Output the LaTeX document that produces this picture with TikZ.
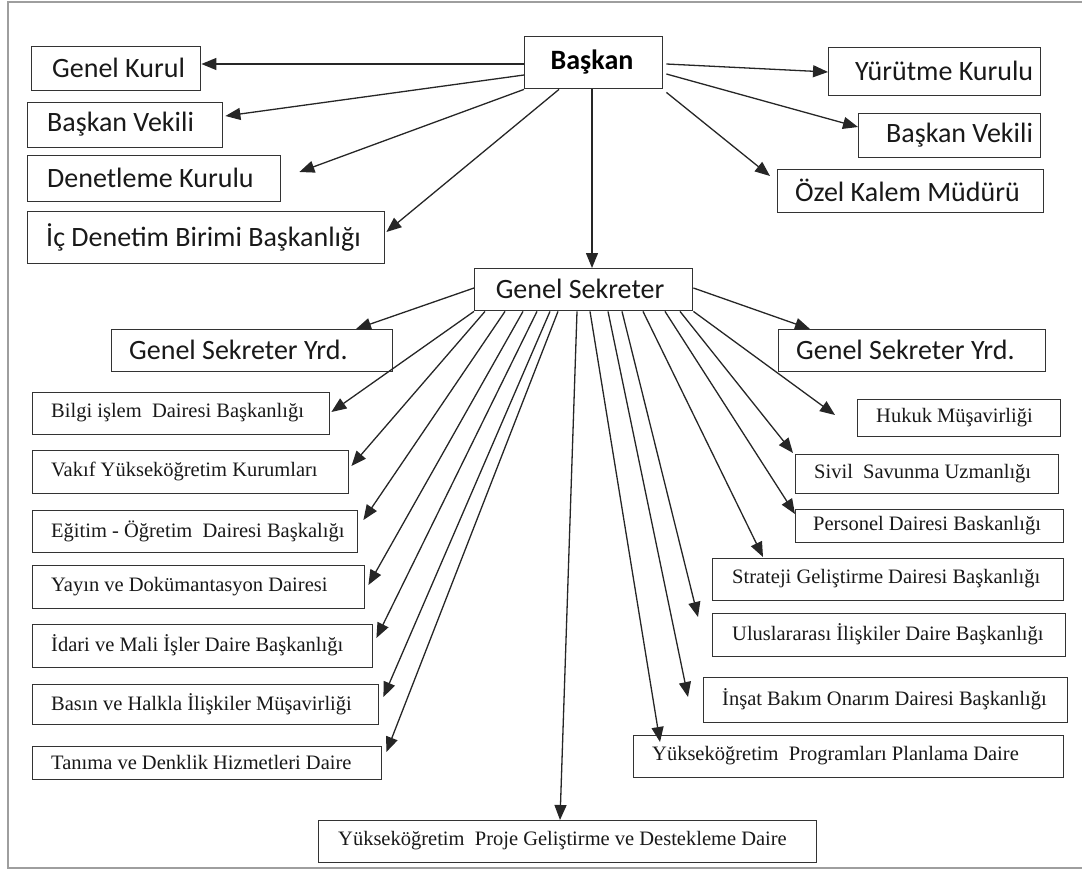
\documentclass[tikz,border=0pt]{standalone}
\usepackage{fontspec}
\newfontfamily\calib{Carlito}
\newfontfamily\tnr{Liberation Serif}
\usetikzlibrary{arrows.meta,calc}

% box from (x1,y1) to (x2,y2) with its label placed at text-x
% #1 name, #2 x1, #3 y1, #4 x2, #5 y2, #6 text x, #7 label style, #8 label
\newcommand\orgbox[8]{%
  \node[boxst, minimum width={(#4)-(#2)}, minimum height={(#5)-(#3)},
        anchor=north west] (#1) at (#2,#3) {};
  \node[anchor=west, #7] (#1-t) at (#6,{((#3)+(#5))/2}) {#8};
}

\begin{document}
\begin{tikzpicture}[x=1pt,y=-1pt,
  boxst/.style={draw=black!80, line width=1.4pt, inner sep=0pt, fill=white},
  top/.style={font=\calib\fontsize{28}{32}\selectfont, text=black!90, inner sep=0pt},
  topb/.style={font=\calib\bfseries\fontsize{28}{32}\selectfont, text=black, inner sep=0pt},
  low/.style={font=\tnr\fontsize{20.5}{24}\selectfont, text=black!90, inner sep=0pt},
  arr/.style={draw=black!85, line width=1.3pt, -{Triangle[length=15pt,width=12pt]}}]

\useasboundingbox (0,0) rectangle (1082,873);
% page frame
\draw[black!38, line width=2pt] (1082,2) -- (8,2) -- (8,868) -- (1082,868);

% top level
\orgbox{bas}{524}{36}{662}{88}{592}{topb, anchor=center}{Başkan}
\orgbox{gk}{31}{46}{200}{90}{52}{top}{Genel Kurul}
\orgbox{bvl}{27}{102}{222}{147}{47}{top}{Başkan Vekili}
\orgbox{den}{27}{155}{280}{201}{47}{top}{Denetleme Kurulu}
\orgbox{ic}{27}{211}{384}{263}{46}{top}{İç Denetim Birimi Başkanlığı}
\orgbox{yk}{828}{47}{1040}{95}{855}{top}{Yürütme Kurulu}
\orgbox{bvr}{858}{113}{1040}{157}{886}{top}{Başkan Vekili}
\orgbox{ozk}{777}{169}{1043}{212}{795}{top}{Özel Kalem Müdürü}

% general secretary
\orgbox{gs}{474}{268}{692}{310}{580}{top, anchor=center}{Genel Sekreter}
\orgbox{gsyl}{111}{329}{392}{371}{129}{top}{Genel Sekreter Yrd.}
\orgbox{gsyr}{778}{329}{1045}{371}{796}{top}{Genel Sekreter Yrd.}

% left column
\orgbox{bilgi}{32}{392}{329}{434}{51}{low}{Bilgi işlem\ \ Dairesi Başkanlığı}
\orgbox{vakif}{32}{450}{348}{493}{51}{low}{Vakıf Yükseköğretim Kurumları}
\orgbox{egitim}{32}{510}{357}{552}{51}{low}{Eğitim - Öğretim\ \ Dairesi Başkalığı}
\orgbox{yayin}{32}{565}{364}{608}{51}{low}{Yayın ve Dokümantasyon Dairesi}
\orgbox{idari}{32}{624}{372}{667}{51}{low}{İdari ve Mali İşler Daire Başkanlığı}
\orgbox{basin}{32}{684}{378}{724}{51}{low}{Basın ve Halkla İlişkiler Müşavirliği}
\orgbox{tanima}{32}{746}{381}{779}{51}{low}{Tanıma ve Denklik Hizmetleri Daire}

% right column
\orgbox{hukuk}{857}{399}{1060}{436}{876}{low}{Hukuk Müşavirliği}
\orgbox{sivil}{795}{454}{1058}{493}{814}{low}{Sivil\ \ Savunma Uzmanlığı}
\orgbox{pers}{795}{509}{1063}{542}{813}{low}{Personel Dairesi Baskanlığı}
\orgbox{strat}{712}{558}{1063}{600}{732}{low}{Strateji Geliştirme Dairesi Başkanlığı}
\orgbox{ulus}{712}{613}{1065}{656}{732}{low}{Uluslararası İlişkiler Daire Başkanlığı}
\orgbox{insat}{703}{677}{1067}{722}{722}{low}{İnşat Bakım Onarım Dairesi Başkanlığı}
\orgbox{prog}{633}{735}{1063}{777}{652}{low}{Yükseköğretim\ \ Programları Planlama Daire}

% bottom
\orgbox{proje}{318}{820}{816}{862}{338}{low}{Yükseköğretim\ \ Proje Geliştirme ve Destekleme Daire}

% from Başkan
\draw[arr] ($(bas.north west)+(0,28)$) -- ($(gk.north east)+(0,18)$);
\draw[arr] ($(bas.north west)+(0,39)$) -- ($(bvl.north east)+(2,14)$);
\draw[arr] (bas.south west) -- ($(den.north east)+(18,17)$);
\draw[arr] ($(bas.south west)+(35,0)$) -- ($(ic.north east)+(1,21)$);
\draw[arr] ($(bas.north east)+(3,28)$) -- ($(yk.north west)+(0,25)$);
\draw[arr] ($(bas.north east)+(3,38)$) -- ($(bvr.north west)+(0,14)$);
\draw[arr] ($(bas.south east)+(3,3)$) -- ($(ozk.north west)+(-7,7)$);
\draw[arr] ($(bas.south west)+(68,0)$) -- ($(gs.north west)+(118,0)$);

% from Genel Sekreter
\draw[arr] ($(gs.north west)+(0,20)$) -- ($(gsyl.north west)+(245,0)$);
\draw[arr] ($(gs.north east)+(0,20)$) -- ($(gsyr.north west)+(32,0)$);

\draw[arr] (gs.south west) -- ($(bilgi.north east)+(1,20)$);
\draw[arr] ($(gs.south west)+(11,0)$) -- ($(vakif.north east)+(2,16)$);
\draw[arr] ($(gs.south west)+(31,0)$) -- ($(egitim.north east)+(5,10)$);
\draw[arr] ($(gs.south west)+(49,0)$) -- ($(yayin.north east)+(3,20)$);
\draw[arr] ($(gs.south west)+(63,0)$) -- ($(idari.north east)+(3,14)$);
\draw[arr] ($(gs.south west)+(76,0)$) -- ($(basin.north east)+(4,13)$);
\draw[arr] ($(gs.south west)+(84,0)$) -- ($(tanima.north east)+(4,6)$);
\draw[arr] ($(gs.south west)+(103,0)$) -- ($(proje.north west)+(242,0)$);
\draw[arr] ($(gs.south west)+(116,0)$) -- ($(prog.north west)+(27,7)$);
\draw[arr] ($(gs.south west)+(134,0)$) -- ($(insat.north west)+(-15,20)$);
\draw[arr] ($(gs.south west)+(148,0)$) -- ($(ulus.north west)+(-14,4)$);
\draw[arr] ($(gs.south west)+(169,0)$) -- ($(strat.north west)+(51,-1)$);
\draw[arr] ($(gs.south west)+(191,0)$) -- ($(pers.north west)+(0,5)$);
\draw[arr] ($(gs.south west)+(206,0)$) -- ($(sivil.north west)+(-2,-1)$);
\draw[arr] (gs.south east) -- ($(hukuk.north west)+(-22,16)$);
\end{tikzpicture}
\end{document}
